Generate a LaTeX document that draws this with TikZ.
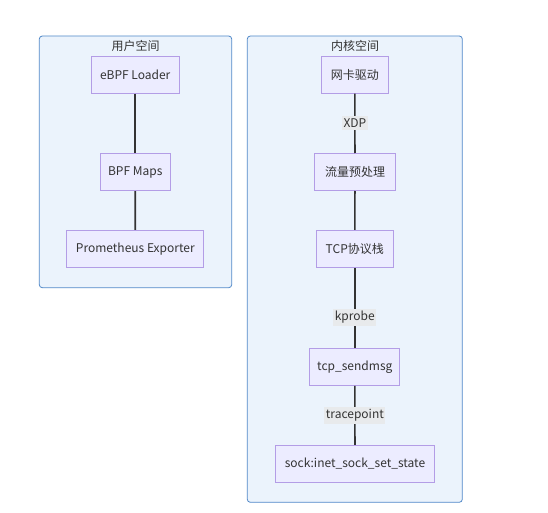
\documentclass[tikz,border=0pt]{standalone}
\usepackage{fontspec}
\setmainfont{Noto Sans CJK SC}
\definecolor{clfill}{HTML}{EBF3FC}
\definecolor{cldraw}{HTML}{5088C8}
\definecolor{ndfill}{HTML}{ECECFF}
\definecolor{nddraw}{HTML}{B39DE6}
\definecolor{txt}{HTML}{333333}
\definecolor{lblfill}{HTML}{E8EAEC}
\begin{document}
\begin{tikzpicture}[x=1pt,y=-1pt,
  cluster/.style={draw=cldraw,fill=clfill,rounded corners=3pt,line width=0.8pt},
  ctitle/.style={text=txt,font=\fontsize{12}{14}\selectfont,inner sep=0pt},
  box/.style={draw=nddraw,fill=ndfill,line width=1pt,minimum height=37pt,inner sep=0pt,text=txt,font=\fontsize{12}{14}\selectfont},
  lbl/.style={fill=lblfill,inner xsep=1.5pt,inner ysep=2.5pt,text=txt,font=\fontsize{12}{14}\selectfont},
  edge/.style={draw=txt,line width=1.6pt}]
\useasboundingbox (0,0) rectangle (548,513);
\draw[cluster] (39.3,36) rectangle (231.7,287.7);
\draw[cluster] (247.3,36) rectangle (462.3,502.3);
\node[ctitle] (t1) at (135.5,46) {用户空间};
\node[ctitle] (t2) at (355,46) {内核空间};
% left
\node[box,minimum width=87.7pt] (loader) at (135.2,74.7) {eBPF Loader};
\node[box,minimum width=69.7pt] (maps) at (135.2,172.2) {BPF Maps};
\node[box,minimum width=136.7pt] (prom) at (135.3,248.8) {Prometheus Exporter};
% right
\node[box,minimum width=67pt] (nic) at (354.8,74.7) {网卡驱动};
\node[box,minimum width=80.6pt] (pre) at (355,172) {流量预处理};
\node[box,minimum width=77pt] (tcp) at (354.8,248.8) {TCP协议栈};
\node[box,minimum width=90.3pt] (send) at (354.8,366.8) {tcp\_sendmsg};
\node[box,minimum width=159.4pt] (sock) at (355,463.8) {sock:inet\_sock\_set\_state};
\draw[edge] (loader) -- (maps);
\draw[edge] (maps) -- (prom);
\draw[edge] (nic) -- node[lbl] (l1) {XDP} (pre);
\draw[edge] (pre) -- (tcp);
\draw[edge] (tcp) -- node[lbl,pos=0.62] (l2) {kprobe} (send);
\draw[edge] (send) -- node[lbl] (l3) {tracepoint} (sock);
\end{tikzpicture}
\end{document}
